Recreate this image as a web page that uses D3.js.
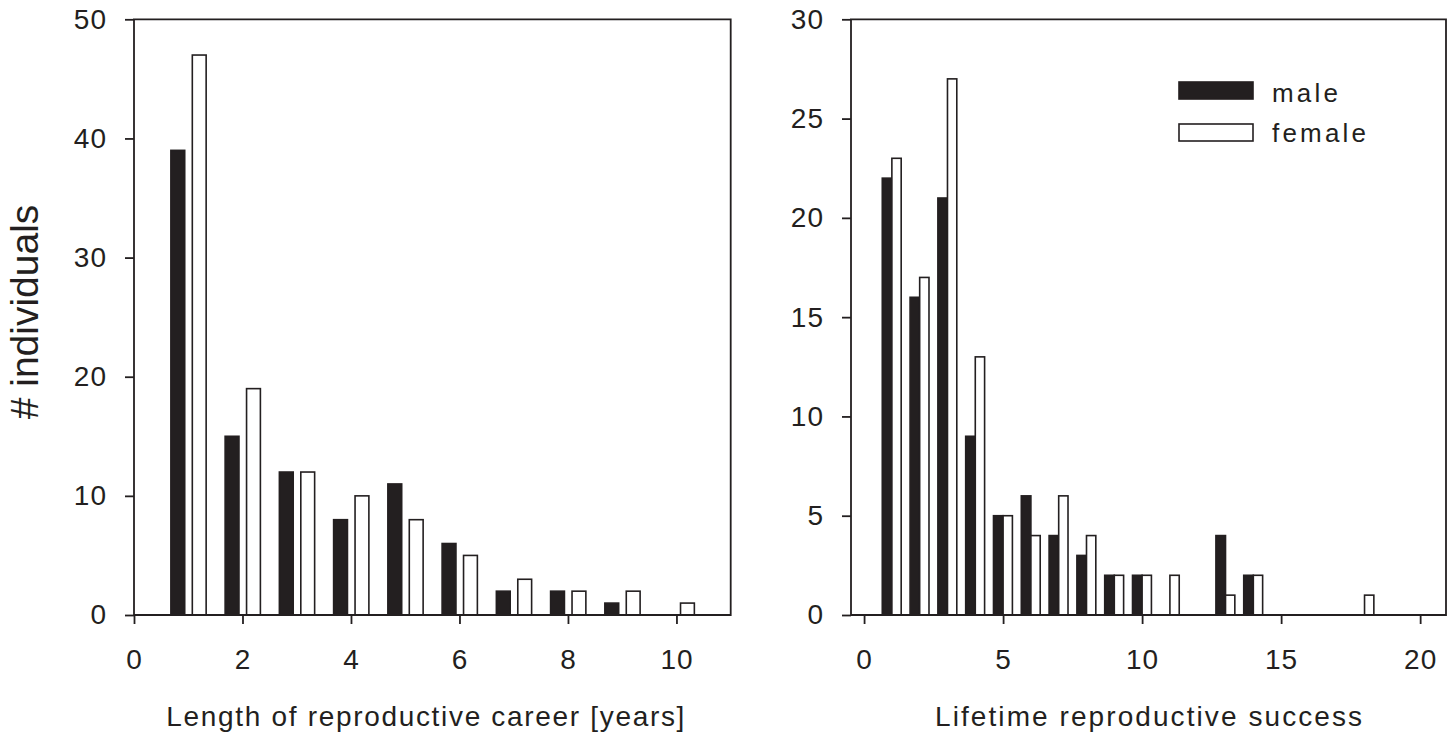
<!DOCTYPE html>
<html>
<head>
<meta charset="utf-8">
<script src="https://cdn.jsdelivr.net/npm/d3@7"></script>
<style>
    body { margin: 0; background: #fff; }
    svg { display: block; }
    text { font-family: "Liberation Sans", Arial, sans-serif; fill: #231f20; }
</style>
</head>
<body>
<div id="vis"></div>
<script>
const WIDTH = 1453;
const HEIGHT = 734;
const INK = "#231f20";

// datos
const careerYears = [1, 2, 3, 4, 5, 6, 7, 8, 9, 10];
const careerMale = [39, 15, 12, 8, 11, 6, 2, 2, 1, 0];
const careerFemale = [47, 19, 12, 10, 8, 5, 3, 2, 2, 1];

const lrsValues = [1, 2, 3, 4, 5, 6, 7, 8, 9, 10, 11, 12, 13, 14, 15, 16, 17, 18, 19, 20];
const lrsMale = [22, 16, 21, 9, 5, 6, 4, 3, 2, 2, 0, 0, 4, 2, 0, 0, 0, 0, 0, 0];
const lrsFemale = [23, 17, 27, 13, 5, 4, 6, 4, 2, 2, 2, 0, 1, 2, 0, 0, 0, 1, 0, 0];

const careerXTicks = [0, 2, 4, 6, 8, 10];
const careerYTicks = [0, 10, 20, 30, 40, 50];
const lrsXTicks = [0, 5, 10, 15, 20];
const lrsYTicks = [0, 5, 10, 15, 20, 25, 30];

const legendLabels = ["male", "female"];

const SVG = d3.select("#vis").append("svg")
    .attr("width", WIDTH)
    .attr("height", HEIGHT);

function crearPanel(cfg) {
    const x = d3.scaleLinear().domain(cfg.xDomain).range([cfg.left, cfg.right]);
    const y = d3.scaleLinear().domain(cfg.yDomain).range([615, 19.3]);
    const g = SVG.append("g");

    const bars = [];
    cfg.cats.forEach((c, i) => {
        bars.push({ c: c, v: cfg.male[i], sex: "male" });
        bars.push({ c: c, v: cfg.female[i], sex: "female" });
    });

    const off = d => d.sex === "male" ? cfg.maleOff : cfg.femaleOff;

    g.selectAll("rect.bar")
        .data(bars.filter(d => d.v > 0))
        .join("rect")
        .attr("class", "bar")
        .attr("x", d => x(d.c + off(d)[0]))
        .attr("width", d => x(d.c + off(d)[1]) - x(d.c + off(d)[0]))
        .attr("y", d => y(d.v))
        .attr("height", d => y(0) - y(d.v))
        .attr("fill", d => d.sex === "male" ? INK : "#fff")
        .attr("stroke", INK)
        .attr("stroke-width", 1.6);

    // marco
    g.append("path")
        .attr("d", `M${cfg.left},${y(cfg.yDomain[1])}H${cfg.right}V${y(0)}H${cfg.left}Z`)
        .attr("fill", "none")
        .attr("stroke", INK)
        .attr("stroke-width", 1.8);

    const xAxis = g.append("g")
        .attr("transform", `translate(0,${y(0)})`)
        .call(d3.axisBottom(x).tickValues(cfg.xTicks).tickSize(9).tickPadding(25).tickSizeOuter(0));
    const yAxis = g.append("g")
        .attr("transform", `translate(${cfg.left},0)`)
        .call(d3.axisLeft(y).tickValues(cfg.yTicks).tickSize(9).tickPadding(18).tickSizeOuter(0));

    [xAxis, yAxis].forEach(a => {
        a.select(".domain").remove();
        a.selectAll("line").attr("stroke", INK).attr("stroke-width", 1.8);
        a.selectAll("text")
            .attr("fill", INK)
            .attr("letter-spacing", 1)
            .style("font-size", "28px")
            .style("font-family", "'Liberation Sans', Arial, sans-serif");
    });

    g.append("text")
        .attr("x", (cfg.left + cfg.right) / 2 + cfg.titleShift)
        .attr("y", 726)
        .attr("text-anchor", "middle")
        .attr("textLength", cfg.titleWidth)
        .attr("lengthAdjust", "spacing")
        .style("font-size", "28px")
        .text(cfg.title);

    return { x, y, g };
}

crearPanel({
    left: 134, right: 730.7,
    xDomain: [0, 11], yDomain: [0, 50],
    cats: careerYears, male: careerMale, female: careerFemale,
    maleOff: [-0.32, -0.065], femaleOff: [0.075, 0.33],
    xTicks: careerXTicks, yTicks: careerYTicks,
    title: "Length of reproductive career [years]", titleWidth: 518, titleShift: -7
});

const right = crearPanel({
    left: 851, right: 1446,
    xDomain: [-0.47, 20.93], yDomain: [0, 30],
    cats: lrsValues, male: lrsMale, female: lrsFemale,
    maleOff: [-0.345, 0], femaleOff: [0, 0.335],
    xTicks: lrsXTicks, yTicks: lrsYTicks,
    title: "Lifetime reproductive success", titleWidth: 427, titleShift: 0
});

// Leyenda
const legend = right.g.append("g")
    .attr("transform", "translate(1179,82)");

legend.selectAll("rect")
    .data(legendLabels)
    .join("rect")
    .attr("x", 0)
    .attr("y", (d, i) => i * 42)
    .attr("width", 74)
    .attr("height", 17)
    .attr("fill", (d, i) => i === 0 ? INK : "#fff")
    .attr("stroke", INK)
    .attr("stroke-width", 1.6);

legend.selectAll("text")
    .data(legendLabels)
    .join("text")
    .attr("x", 93)
    .attr("y", (d, i) => 19.5 + i * 40)
    .attr("letter-spacing", 3.2)
    .style("font-size", "26px")
    .text(d => d);

// etiqueta eje y
SVG.append("text")
    .attr("transform", "translate(38,312) rotate(-90)")
    .attr("text-anchor", "middle")
    .style("font-size", "39px")
    .text("# individuals");
</script>
</body>
</html>
